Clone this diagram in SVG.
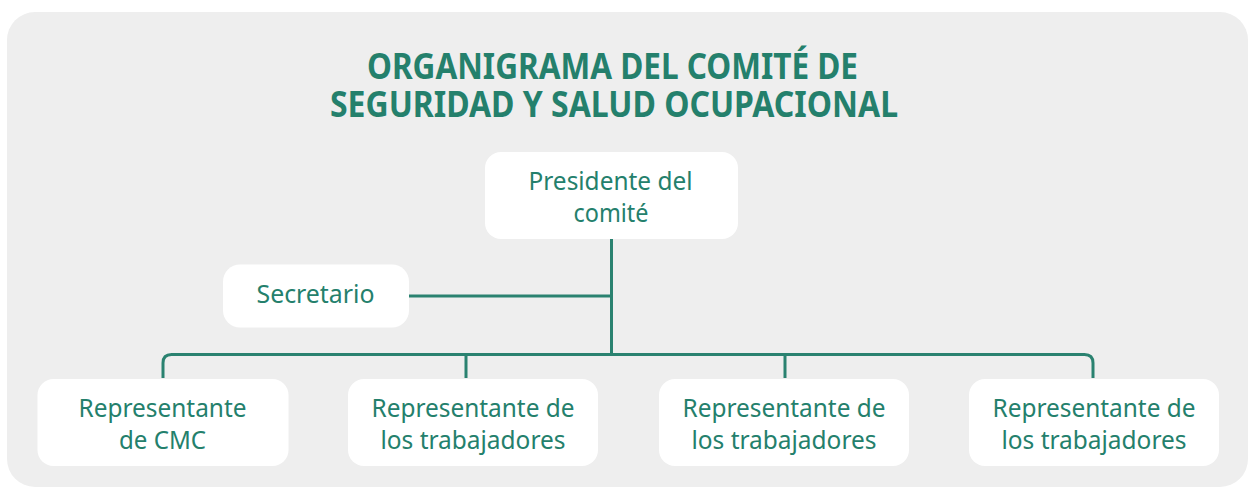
<svg xmlns="http://www.w3.org/2000/svg" width="1248" height="487" viewBox="0 0 1248 487">
<style>
.box{fill:#ffffff}
.t{font-family:"Noto Sans","Open Sans",sans-serif;font-size:26px;fill:#24806c;text-anchor:middle}
.title{font-family:"Noto Sans","Open Sans",sans-serif;font-size:36px;font-weight:bold;fill:#24806c;text-anchor:middle}
.c{fill:none;stroke:#2a8270;stroke-width:3}
</style>
<rect x="7" y="12" width="1241" height="475" rx="28" fill="#eeeeee"/>
<text class="title" x="612.5" y="79" textLength="491" lengthAdjust="spacingAndGlyphs">ORGANIGRAMA DEL COMITÉ DE</text>
<text class="title" x="614" y="116.5" textLength="568" lengthAdjust="spacingAndGlyphs">SEGURIDAD Y SALUD OCUPACIONAL</text>
<g id="connectors">
<path class="c" d="M611.5,239 V354.5"/>
<path class="c" d="M409,296 H611.5"/>
<path class="c" d="M163,378 V363 Q163,354.5 171.5,354.5 H1084.5 Q1093,354.5 1093,363 V378"/>
<path class="c" d="M466,354.5 V378"/>
<path class="c" d="M785,354.5 V378"/>
</g>
<g id="presidente">
<rect class="box" x="485" y="152" width="253" height="87" rx="16"/>
<text class="t" x="610.5" y="190" textLength="164" lengthAdjust="spacingAndGlyphs">Presidente del</text>
<text class="t" x="611" y="221.5" textLength="75" lengthAdjust="spacingAndGlyphs">comité</text>
</g>
<g id="secretario">
<rect class="box" x="223" y="264.5" width="186" height="63" rx="17"/>
<text class="t" x="315.5" y="303" textLength="118" lengthAdjust="spacingAndGlyphs">Secretario</text>
</g>
<g id="rep-cmc">
<rect class="box" x="37.5" y="379" width="251" height="87" rx="16"/>
<text class="t" x="162.5" y="417" textLength="168" lengthAdjust="spacingAndGlyphs">Representante</text>
<text class="t" x="162.5" y="448.5" textLength="87" lengthAdjust="spacingAndGlyphs">de CMC</text>
</g>
<g id="rep-trab-1">
<rect class="box" x="348" y="379" width="250" height="87" rx="16"/>
<text class="t" x="473" y="417" textLength="203" lengthAdjust="spacingAndGlyphs">Representante de</text>
<text class="t" x="473" y="448.5" textLength="185" lengthAdjust="spacingAndGlyphs">los trabajadores</text>
</g>
<g id="rep-trab-2">
<rect class="box" x="659" y="379" width="250" height="87" rx="16"/>
<text class="t" x="784" y="417" textLength="203" lengthAdjust="spacingAndGlyphs">Representante de</text>
<text class="t" x="784" y="448.5" textLength="185" lengthAdjust="spacingAndGlyphs">los trabajadores</text>
</g>
<g id="rep-trab-3">
<rect class="box" x="969" y="379" width="250" height="87" rx="16"/>
<text class="t" x="1094" y="417" textLength="203" lengthAdjust="spacingAndGlyphs">Representante de</text>
<text class="t" x="1094" y="448.5" textLength="185" lengthAdjust="spacingAndGlyphs">los trabajadores</text>
</g>
</svg>
